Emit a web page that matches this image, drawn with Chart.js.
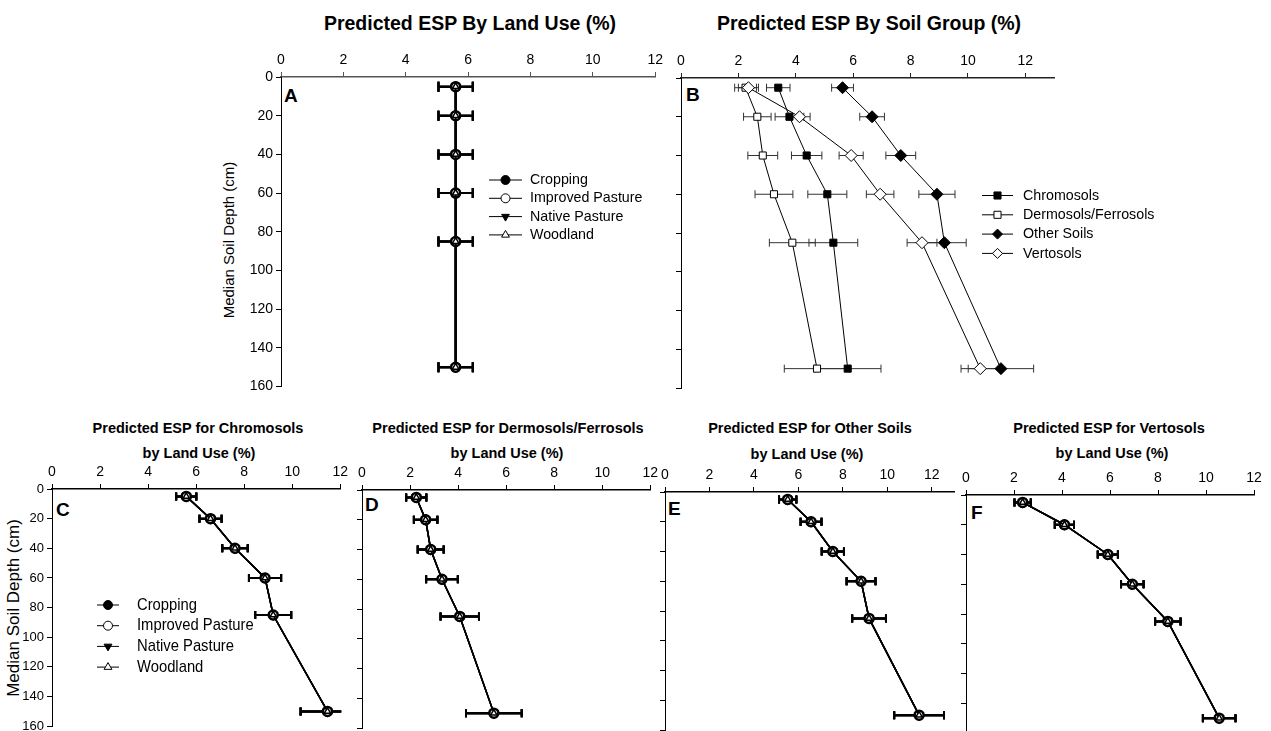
<!DOCTYPE html>
<html>
<head>
<meta charset="utf-8">
<script src="https://cdn.jsdelivr.net/npm/chart.js@4.4.1/dist/chart.umd.min.js"></script>
<style>
  html, body { margin: 0; padding: 0; background: #fff; }
  body { width: 1271px; height: 731px; position: relative; overflow: hidden;
         font-family: "Liberation Sans", Arial, sans-serif; color: #000; }
  canvas { position: absolute; }
  .t { position: absolute; white-space: nowrap; transform: translate(-50%, -50%); font-weight: bold; }
  .big { font-size: 19.5px; }
  .small { font-size: 14.5px; }
  .tag { position: absolute; font-weight: bold; font-size: 19px; transform: translateY(-50%); }
  .ytitle { position: absolute; white-space: nowrap; transform: translate(-50%, -50%) rotate(-90deg); }
</style>
</head>
<body>
<div class="t big" style="left:470px;top:23px">Predicted ESP By Land Use (%)</div>
<div class="t big" style="left:869px;top:23px">Predicted ESP By Soil Group (%)</div>
<div class="t small" style="left:198px;top:428px">Predicted ESP for Chromosols</div>
<div class="t small" style="left:199px;top:453px">by Land Use (%)</div>
<div class="t small" style="left:508px;top:428px">Predicted ESP for Dermosols/Ferrosols</div>
<div class="t small" style="left:507px;top:453px">by Land Use (%)</div>
<div class="t small" style="left:810px;top:428px">Predicted ESP for Other Soils</div>
<div class="t small" style="left:807px;top:454px">by Land Use (%)</div>
<div class="t small" style="left:1109px;top:428px">Predicted ESP for Vertosols</div>
<div class="t small" style="left:1112px;top:453px">by Land Use (%)</div>

<div class="tag" style="left:284px;top:96px">A</div>
<div class="tag" style="left:686px;top:95px">B</div>
<div class="tag" style="left:56px;top:510px">C</div>
<div class="tag" style="left:365px;top:505px">D</div>
<div class="tag" style="left:668px;top:509px">E</div>
<div class="tag" style="left:971px;top:513px">F</div>

<div class="ytitle" style="left:228px;top:240px;font-size:15px">Median Soil Depth (cm)</div>
<div class="ytitle" style="left:14px;top:608px;font-size:17px">Median Soil Depth (cm)</div>

<canvas id="cA"></canvas>
<canvas id="cB"></canvas>
<canvas id="cC"></canvas>
<canvas id="cD"></canvas>
<canvas id="cE"></canvas>
<canvas id="cF"></canvas>

<script>
const depths = [5, 20, 40, 60, 85, 150];
const espTicks = [0, 2, 4, 6, 8, 10, 12];
const depthTicks = [0, 20, 40, 60, 80, 100, 120, 140, 160];
const landUses = ['Cropping', 'Improved Pasture', 'Native Pasture', 'Woodland'];
const soilGroups = ['Chromosols', 'Dermosols/Ferrosols', 'Other Soils', 'Vertosols'];

// A: the four land uses plot on top of each other
const espLandUse = [5.6, 5.6, 5.6, 5.6, 5.6, 5.6];
const errLandUse = [0.55, 0.55, 0.55, 0.55, 0.55, 0.55];

// B: by soil group
const espChromosols = [3.39, 3.78, 4.38, 5.10, 5.31, 5.81];
const errChromosols = [0.41, 0.50, 0.53, 0.68, 0.85, 1.16];
const espDermosols = [2.25, 2.66, 2.85, 3.24, 3.88, 4.74];
const errDermosols = [0.38, 0.48, 0.52, 0.66, 0.80, 1.14];
const espOther = [5.63, 6.66, 7.66, 8.92, 9.18, 11.15];
const errOther = [0.38, 0.43, 0.52, 0.63, 0.76, 1.14];
const espVertosols = [2.35, 4.13, 5.93, 6.94, 8.40, 10.43];
const errVertosols = [0.35, 0.37, 0.42, 0.48, 0.52, 0.67];

// C-F: each soil group by land use (land uses overlap again)
const espChromosolsLU = [5.59, 6.60, 7.62, 8.87, 9.21, 11.47];
const errChromosolsLU = [0.42, 0.46, 0.53, 0.67, 0.75, 1.12];
const espDermosolsLU = [2.26, 2.65, 2.86, 3.33, 4.07, 5.49];
const errDermosolsLU = [0.42, 0.49, 0.54, 0.66, 0.80, 1.16];
const espOtherLU = [5.52, 6.57, 7.55, 8.82, 9.18, 11.43];
const errOtherLU = [0.39, 0.47, 0.50, 0.65, 0.76, 1.12];
const espVertosolsLU = [2.36, 4.10, 5.91, 6.93, 8.41, 10.55];
const errVertosolsLU = [0.34, 0.40, 0.42, 0.47, 0.53, 0.68];

const FONT = '"Liberation Sans", Arial, sans-serif';

// marker look for each land use / soil group
const landUseMarks = [
  { shape: 'circle', rot: 0, fill: '#000', order: 3 },
  { shape: 'circle', rot: 0, fill: '#fff', order: 1 },
  { shape: 'triangle', rot: 180, fill: '#000', order: 2 },
  { shape: 'triangle', rot: 0, fill: '#fff', order: 0 }
];
const soilMarks = [
  { shape: 'rect', fill: '#000', order: 3 },
  { shape: 'rect', fill: '#fff', order: 2 },
  { shape: 'rectRot', fill: '#000', order: 1 },
  { shape: 'rectRot', fill: '#fff', order: 0 }
];

function drawMark(ctx, shape, x, y, r, rot) {
  ctx.beginPath();
  if (shape === 'circle') {
    ctx.arc(x, y, r, 0, Math.PI * 2);
  } else if (shape === 'rect') {
    const s = r * Math.SQRT1_2;
    ctx.rect(x - s, y - s, 2 * s, 2 * s);
  } else if (shape === 'rectRot') {
    ctx.moveTo(x, y - r); ctx.lineTo(x + r, y); ctx.lineTo(x, y + r); ctx.lineTo(x - r, y);
    ctx.closePath();
  } else {
    let a = (rot || 0) * Math.PI / 180;
    for (let k = 0; k < 3; k++) {
      const px = x + Math.sin(a) * r, py = y - Math.cos(a) * r;
      if (k === 0) ctx.moveTo(px, py); else ctx.lineTo(px, py);
      a += Math.PI * 2 / 3;
    }
    ctx.closePath();
  }
  ctx.fill();
  ctx.stroke();
}

function errorBars(st) {
  return {
    id: 'errorBars',
    beforeDatasetsDraw(chart) {
      const { ctx, chartArea: a, scales: { x, y } } = chart;
      ctx.save();
      ctx.beginPath();
      ctx.rect(a.left, a.top - 20, a.right - a.left + 1, a.bottom - a.top + 40);
      ctx.clip();
      ctx.strokeStyle = st.errColor;
      ctx.lineWidth = st.errWidth;
      chart.data.datasets.forEach(ds => {
        ds.data.forEach((p, i) => {
          const py = y.getPixelForValue(p.y);
          const x0 = x.getPixelForValue(p.x - ds.err[i]);
          const x1 = x.getPixelForValue(p.x + ds.err[i]);
          ctx.beginPath();
          ctx.moveTo(x0, py); ctx.lineTo(x1, py);
          ctx.moveTo(x0, py - st.cap); ctx.lineTo(x0, py + st.cap);
          ctx.moveTo(x1, py - st.cap); ctx.lineTo(x1, py + st.cap);
          ctx.stroke();
        });
      });
      ctx.restore();
    }
  };
}

function sideLegend(lg, origin) {
  return {
    id: 'sideLegend',
    afterDraw(chart) {
      const ctx = chart.ctx;
      ctx.save();
      ctx.textBaseline = 'middle';
      ctx.font = lg.size + 'px ' + FONT;
      lg.names.forEach((name, i) => {
        const m = lg.marks[i];
        const yy = lg.y + i * lg.gap - origin.top;
        const x0 = lg.x0 - origin.left, x1 = lg.x1 - origin.left;
        ctx.strokeStyle = '#000';
        ctx.lineWidth = 1;
        ctx.beginPath(); ctx.moveTo(x0, yy); ctx.lineTo(x1, yy); ctx.stroke();
        ctx.fillStyle = m.fill;
        drawMark(ctx, m.shape, (x0 + x1) / 2, yy, lg.r, m.rot);
        ctx.fillStyle = '#000';
        ctx.save();
        ctx.translate(lg.tx - origin.left, yy);
        ctx.scale(lg.squeeze, 1);
        ctx.fillText(name, 0, 0);
        ctx.restore();
      });
      ctx.restore();
    }
  };
}

function series(names, marks, vals, errs, st) {
  return names.map((name, i) => {
    const m = marks[i];
    const big = m.shape === 'circle' && m.fill === '#fff';
    return {
      label: name,
      data: depths.map((d, j) => ({ x: vals[i][j], y: d })),
      err: errs[i],
      showLine: true,
      borderColor: '#000',
      borderWidth: st.line,
      pointStyle: m.shape,
      pointRotation: m.rot || 0,
      pointRadius: m.shape === 'triangle' && m.fill === '#fff' ? st.tri : (m.shape === 'rectRot' ? st.diamond : st.r),
      pointBorderWidth: big ? st.ring : st.markBorder,
      pointBackgroundColor: m.fill,
      pointBorderColor: '#000',
      order: m.order,
      clip: false
    };
  });
}

function panel(id, box, pad, xMax, yLabels, datasets, st, lg) {
  const cv = document.getElementById(id);
  const origin = { left: box.l - pad.l, top: box.t - pad.t };
  const w = box.r - box.l + pad.l + pad.r, h = box.b - box.t + pad.t + pad.b;
  cv.width = w; cv.height = h;
  cv.style.left = origin.left + 'px'; cv.style.top = origin.top + 'px';
  cv.style.width = w + 'px'; cv.style.height = h + 'px';
  const plugins = [errorBars(st)];
  if (lg) plugins.push(sideLegend(lg, origin));
  return new Chart(cv, {
    type: 'scatter',
    data: { datasets },
    plugins,
    options: {
      responsive: false,
      animation: false,
      devicePixelRatio: 1,
      events: [],
      layout: { autoPadding: false, padding: { left: 0, top: 0, right: pad.r, bottom: pad.b } },
      plugins: { legend: { display: false }, tooltip: { enabled: false } },
      elements: { line: { tension: 0 } },
      scales: {
        x: {
          type: 'linear', position: 'top', min: 0, max: xMax,
          afterBuildTicks: s => { s.ticks = espTicks.map(v => ({ value: v })); },
          afterFit: s => { s.height = pad.t; },
          ticks: { color: '#000', padding: 3, font: { family: FONT, size: st.tickSize } },
          grid: { drawOnChartArea: false, drawTicks: true, tickLength: 5, color: st.xAxisColor, lineWidth: 1 },
          border: { color: st.xAxisColor, width: st.xAxisWidth }
        },
        y: {
          type: 'linear', position: 'left', reverse: true, min: 0, max: 160,
          afterBuildTicks: s => { s.ticks = depthTicks.map(v => ({ value: v })); },
          afterFit: s => { s.width = pad.l; },
          ticks: { display: yLabels, color: '#000', padding: 3, font: { family: FONT, size: st.yTickSize } },
          grid: { drawOnChartArea: false, drawTicks: true, tickLength: 5, color: '#000', lineWidth: 1 },
          border: { color: '#000', width: 1 }
        }
      }
    }
  });
}

const topStyle = { line: 2, errColor: '#000', errWidth: 2, cap: 5, r: 4.5, tri: 3.8, diamond: 6,
  ring: 2.5, markBorder: 1.5, tickSize: 14, yTickSize: 14, xAxisColor: '#555', xAxisWidth: 1.5 };
const soilStyle = { line: 1, errColor: '#333', errWidth: 1, cap: 4, r: 5, tri: 4.5, diamond: 6,
  ring: 1, markBorder: 1, tickSize: 14, yTickSize: 14, xAxisColor: '#222', xAxisWidth: 1.5 };
const lowStyle = { line: 1.5, errColor: '#000', errWidth: 2, cap: 4, r: 4.5, tri: 3.6, diamond: 6,
  ring: 2.5, markBorder: 1.5, tickSize: 14, yTickSize: 13, xAxisColor: '#000', xAxisWidth: 1.5 };

const landUseLegend = (x0, x1, tx, y, gap, size, squeeze) =>
  ({ names: landUses, marks: landUseMarks, x0, x1, tx, y, gap, size, squeeze, r: 4.5 });

const same = (v) => landUses.map(() => v);

panel('cA', { l: 281, t: 77, r: 656, b: 388 }, { l: 60, t: 40, r: 10, b: 10 }, 12, true,
  series(landUses, landUseMarks, same(espLandUse), same(errLandUse), topStyle), topStyle,
  landUseLegend(489, 522, 530, 180, 18.3, 15, 0.95));

panel('cB', { l: 681, t: 78, r: 1054, b: 388 }, { l: 10, t: 40, r: 115, b: 10 }, 13, false,
  series(soilGroups, soilMarks, [espChromosols, espDermosols, espOther, espVertosols],
    [errChromosols, errDermosols, errOther, errVertosols], soilStyle), soilStyle,
  { names: soilGroups, marks: soilMarks, x0: 982, x1: 1013, tx: 1023, y: 195.5, gap: 19.3, size: 15, squeeze: 0.95, r: 5 });

panel('cC', { l: 52, t: 489, r: 341, b: 727 }, { l: 45, t: 35, r: 10, b: 10 }, 12, true,
  series(landUses, landUseMarks, same(espChromosolsLU), same(errChromosolsLU), lowStyle), lowStyle,
  landUseLegend(97, 119, 137, 605, 20.7, 17, 0.87));

panel('cD', { l: 362, t: 490, r: 651, b: 728 }, { l: 10, t: 35, r: 10, b: 10 }, 12, false,
  series(landUses, landUseMarks, same(espDermosolsLU), same(errDermosolsLU), lowStyle), lowStyle, null);

panel('cE', { l: 665, t: 492, r: 954, b: 730 }, { l: 10, t: 35, r: 10, b: 10 }, 13, false,
  series(landUses, landUseMarks, same(espOtherLU), same(errOtherLU), lowStyle), lowStyle, null);

panel('cF', { l: 966, t: 495, r: 1254, b: 733 }, { l: 10, t: 35, r: 15, b: 10 }, 12, false,
  series(landUses, landUseMarks, same(espVertosolsLU), same(errVertosolsLU), lowStyle), lowStyle, null);
</script>
</body>
</html>
